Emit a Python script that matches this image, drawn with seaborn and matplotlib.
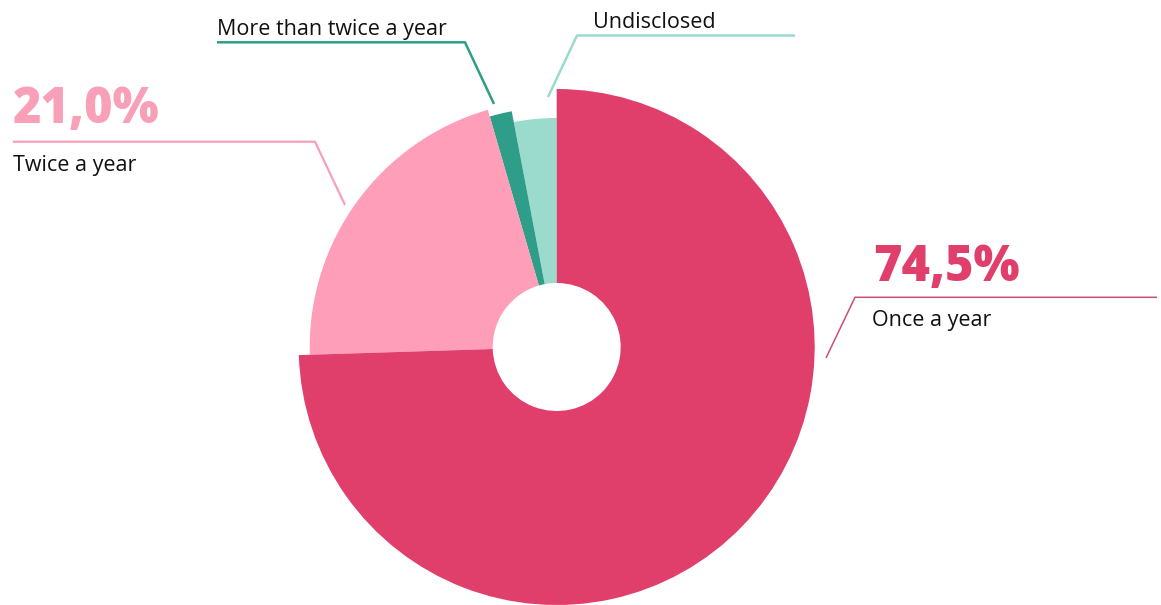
import matplotlib
matplotlib.use("Agg")
import matplotlib.pyplot as plt
import seaborn as sns

# ---- data (counter-clockwise from 12 o'clock) ----
categories = ["Undisclosed", "More than twice a year", "Twice a year", "Once a year"]
shares = [3.0, 1.5, 21.0, 74.5]

# ---- style ----
colors = ["#9BDBCE", "#2F9E88", "#FF9EB8", "#E03E6B"]
radii = [229, 240, 247, 258]
hole = 64
W, H = 1161, 605
center = (556.7, H - 347)

sns.set_theme(style="white")
plt.rcParams["font.family"] = ["Open Sans", "DejaVu Sans"]

fig = plt.figure(figsize=(W / 100, H / 100), dpi=100)
ax = fig.add_axes([0, 0, 1, 1])

wedges, _ = ax.pie(shares, colors=colors, startangle=90, counterclock=True,
                   center=center, radius=max(radii),
                   wedgeprops=dict(width=max(radii) - hole, linewidth=0))
for w, r in zip(wedges, radii):
    w.set_radius(r)
    w.set_width(r - hole)

ax.set_xlim(0, W)
ax.set_ylim(0, H)
ax.set_aspect("equal")
ax.axis("off")

def py(y):
    return H - y

def pct(v):
    return f"{v:.1f}".replace(".", ",") + "%"

# leader lines (pixel layout)
ax.plot([826, 855, 1157], [py(358), py(297.3), py(297.3)], color="#C94F72", lw=1.1,
        solid_capstyle="butt")
ax.plot([345, 315, 13], [py(205), py(141.7), py(141.7)], color="#F7A0B8", lw=1.6,
        solid_capstyle="butt")
ax.plot([494, 465, 217], [py(104), py(42.3), py(42.3)], color="#2F9E88", lw=1.8,
        solid_capstyle="butt")
ax.plot([548, 577, 795], [py(97), py(35.5), py(35.5)], color="#9BDBCE", lw=1.8,
        solid_capstyle="butt")

lab = dict(color="#111111", fontsize=15.5, ha="left", va="baseline")
big = dict(fontsize=35, fontweight=800, ha="left", va="baseline")

# labels
ax.text(873, py(281), pct(shares[3]), color=colors[3], **big)
ax.text(872, py(326), categories[3], **lab)

ax.text(13, py(123), pct(shares[2]), color="#F9A0B9", **big)
ax.text(13, py(170.5), categories[2], **lab)

ax.text(217, py(35), categories[1], **lab)
ax.text(593, py(28), categories[0], **lab)

fig.savefig("out.png", dpi=100, facecolor="white")
